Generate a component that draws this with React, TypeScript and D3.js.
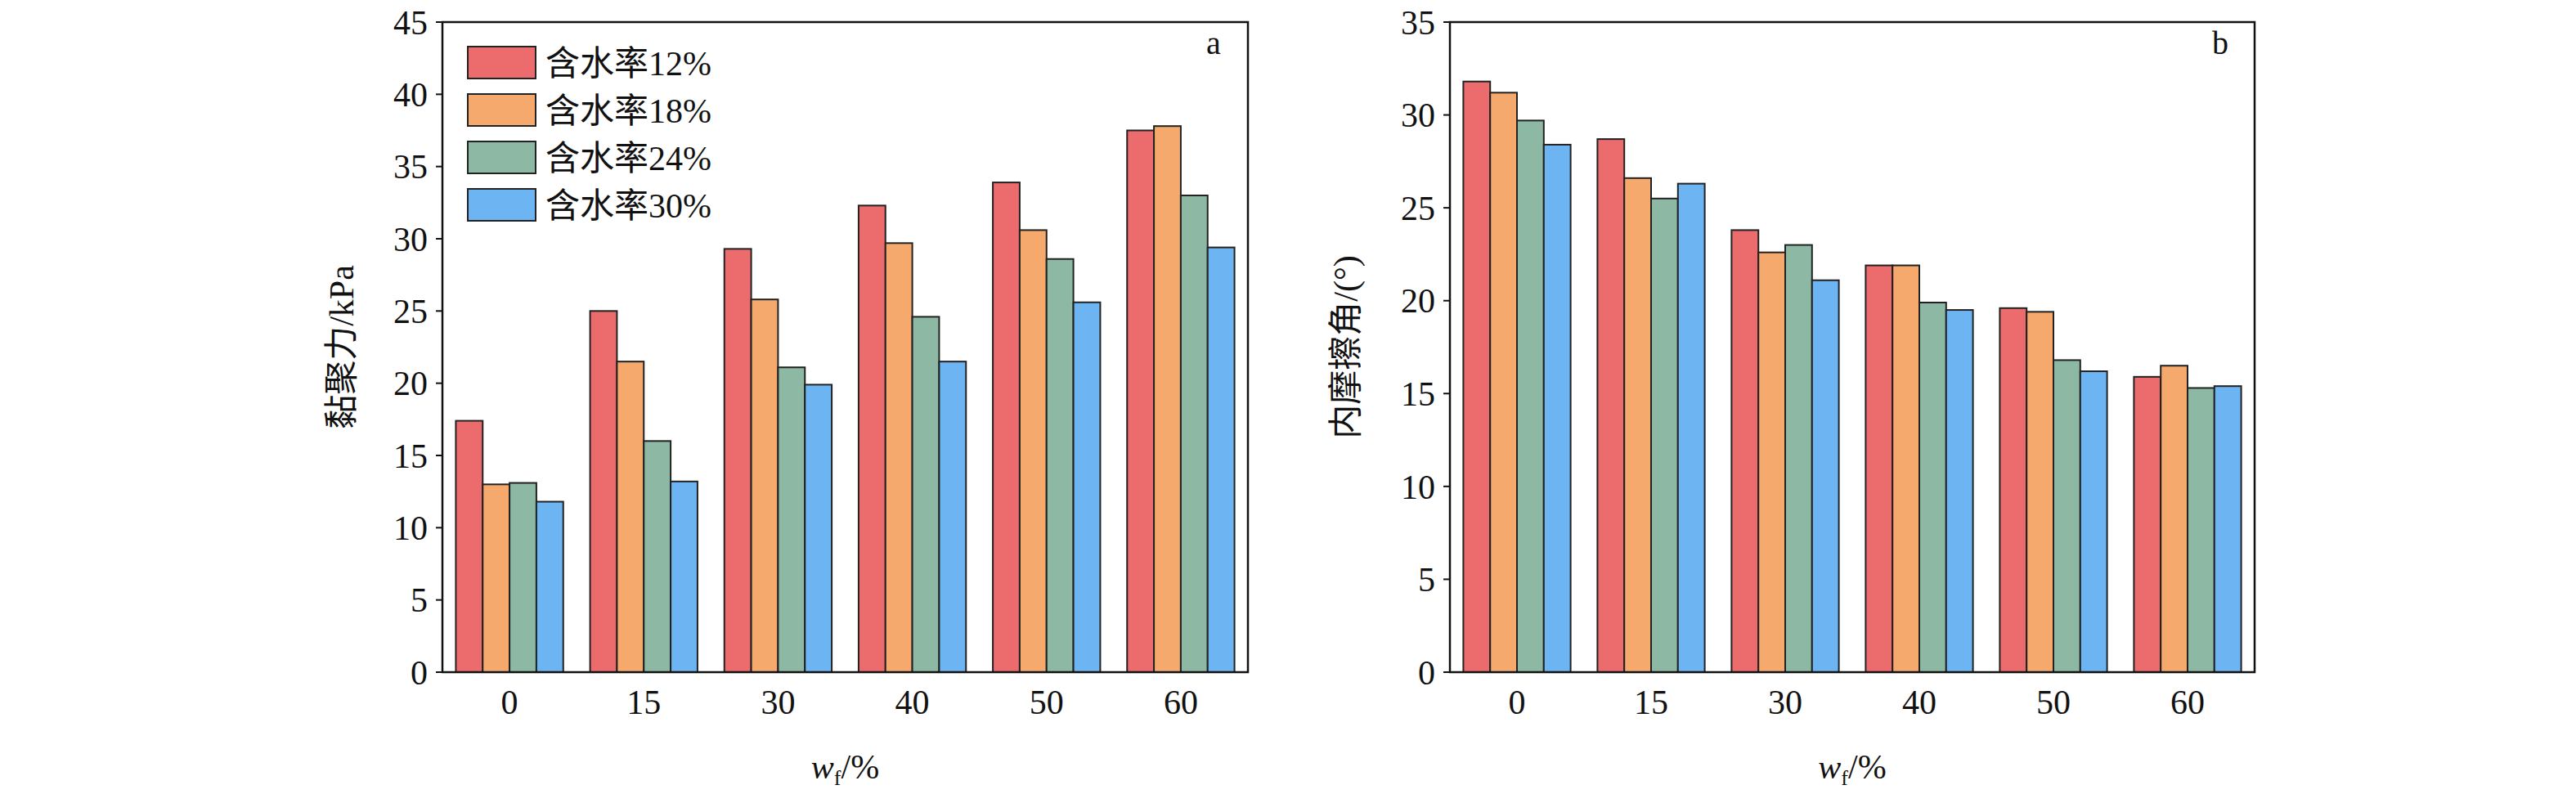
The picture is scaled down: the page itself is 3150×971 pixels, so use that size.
import * as d3 from "d3";

const categories = ["0", "15", "30", "40", "50", "60"];
const series = ["含水率12%", "含水率18%", "含水率24%", "含水率30%"];
const colors = ["#ec6b6d", "#f6a96c", "#8db8a4", "#6db5f2"];
const cohesion = [
  [17.4, 13.0, 13.1, 11.8],
  [25.0, 21.5, 16.0, 13.2],
  [29.3, 25.8, 21.1, 19.9],
  [32.3, 29.7, 24.6, 21.5],
  [33.9, 30.6, 28.6, 25.6],
  [37.5, 37.8, 33.0, 29.4],
];
const friction = [
  [31.8, 31.2, 29.7, 28.4],
  [28.7, 26.6, 25.5, 26.3],
  [23.8, 22.6, 23.0, 21.1],
  [21.9, 21.9, 19.9, 19.5],
  [19.6, 19.4, 16.8, 16.2],
  [15.9, 16.5, 15.3, 15.4],
];
const ticksA = d3.range(0, 46, 5);
const ticksB = d3.range(0, 36, 5);

const font = "'Liberation Serif', 'Noto Sans CJK SC', serif";
const top = 27, bottom = 822;

type PanelProps = {
  left: number; right: number; data: number[][]; max: number; ticks: number[];
  ylabel: string; ylabelX: number; tag: string; legend: boolean;
};

function Panel({ left, right, data, max, ticks, ylabel, ylabelX, tag, legend }: PanelProps) {
  const x = d3.scaleBand().domain(categories).range([left, right]).paddingInner(0.2).paddingOuter(0.1);
  const xs = d3.scaleBand().domain(series).range([0, x.bandwidth()]);
  const y = d3.scaleLinear().domain([0, max]).range([bottom, top]);
  const mid = (left + right) / 2;
  return (
    <g fontFamily={font} fill="#111">
      {data.map((row, i) =>
        row.map((v, j) => (
          <rect key={`${i}-${j}`} x={x(categories[i])! + xs(series[j])!} y={y(v)}
            width={xs.bandwidth()} height={bottom - y(v)} fill={colors[j]} stroke="#222" strokeWidth={2} />
        ))
      )}
      <rect x={left} y={top} width={right - left} height={bottom - top} fill="none" stroke="#111" strokeWidth={2.5} />
      {ticks.map((t) => (
        <g key={t}>
          <line x1={left - 8} x2={left} y1={y(t)} y2={y(t)} stroke="#111" strokeWidth={2} />
          <text x={left - 18} y={y(t)} dy="0.35em" textAnchor="end" fontSize={42}>{t}</text>
        </g>
      ))}
      {categories.map((c) => (
        <text key={c} x={x(c)! + x.bandwidth() / 2} y={873} textAnchor="middle" fontSize={42}>{c}</text>
      ))}
      <text x={mid} y={952} textAnchor="middle" fontSize={42}>
        <tspan fontStyle="italic">w</tspan><tspan fontSize={26} dy={8}>f</tspan><tspan dy={-8}>/%</tspan>
      </text>
      <text transform={`translate(${ylabelX},${(top + bottom) / 2}) rotate(-90)`} textAnchor="middle" fontSize={42}>{ylabel}</text>
      <text x={right - 42} y={66} textAnchor="middle" fontSize={40}>{tag}</text>
      {legend && series.map((s, j) => (
        <g key={s} transform={`translate(572,${57 + j * 58})`}>
          <rect width={83} height={39} fill={colors[j]} stroke="#222" strokeWidth={2} />
          <text x={95} y={20} dy="0.35em" fontSize={42}>{s}</text>
        </g>
      ))}
    </g>
  );
}

export default function App() {
  return (
    <svg width={3150} height={971} style={{ display: "block", position: "absolute", left: 0, top: 0, background: "#fff" }}>
      <Panel left={541} right={1526} data={cohesion} max={45} ticks={ticksA} ylabel="黏聚力/kPa" ylabelX={432} tag="a" legend />
      <Panel left={1773} right={2757} data={friction} max={35} ticks={ticksB} ylabel="内摩擦角/(°)" ylabelX={1660} tag="b" legend={false} />
    </svg>
  );
}
